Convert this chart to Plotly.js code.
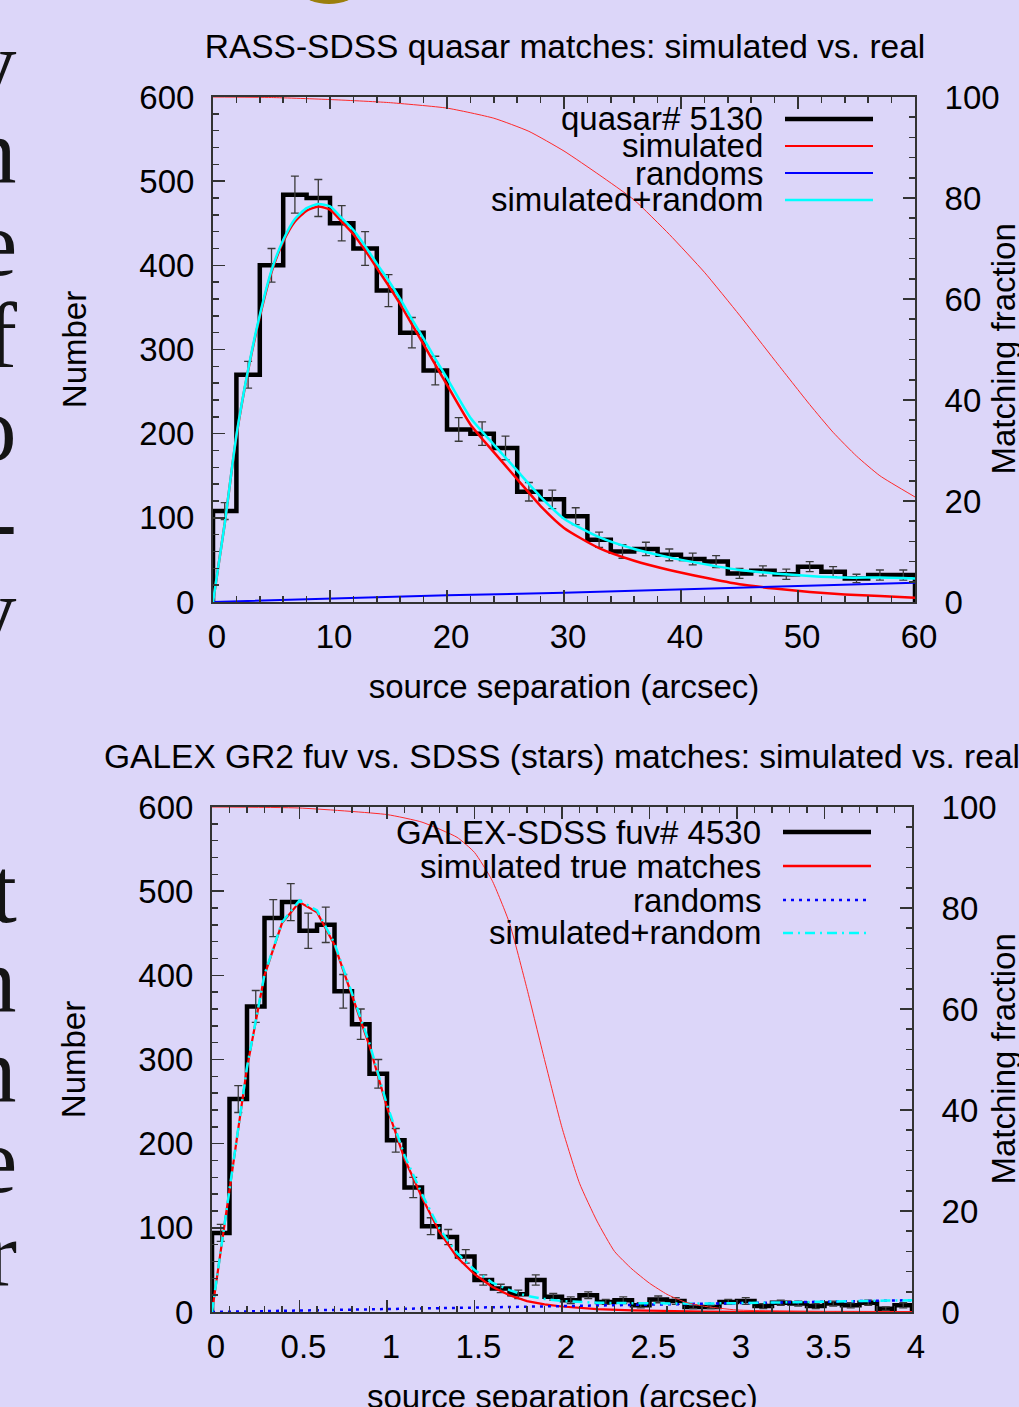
<!DOCTYPE html>
<html><head><meta charset="utf-8">
<script src="https://cdn.plot.ly/plotly-3.0.1.min.js"></script>
<style>html,body{margin:0;padding:0;background:#dcd6f9;} #chart{width:1019px;height:1407px;}</style>
</head><body><div id="chart"></div>
<script>
// ---------------- Top panel: RASS-SDSS quasars ----------------
const topTitle = 'RASS-SDSS quasar matches: simulated vs. real';
const topBinEdges = [0,2,4,6,8,10,12,14,16,18,20,22,24,26,28,30,32,34,36,38,40,42,44,46,48,50,52,54,56,58,60];
const topCounts = [108,270,400,484,480,450,420,370,320,275,205,200,183,131,122,102,74,60,63,56,51,48,34,37,33,42,36,28,32,32];
const topErrors = [10,16,20,22,22,21,20,19,18,17,14,14,14,11,11,10,9,8,8,7,7,7,6,6,6,6,6,5,6,6];
const topCurveX = [0,1,2,3,4,5,6,7,8,9,10,11,12,13,14,15,16,17,18,19,20,22,24,26,28,30,33,36,39,42,45,48,51,54,57,60];
const topSimulated = [0,93,197,275,339,392,428,452,465,470,466,452,437,418,397,376,354,330,306,282,258,211,178,146,114,88,64,49,38,29,21,16,12,9,7,5];
const topSimRandom = [0,93,198,276,341,394,430,455,468,473,470,456,442,423,402,382,360,336,313,289,266,219,187,156,125,99,77,63,53,45,38,34,31,29,29,28];
const topRandX = [0,10,20,30,40,50,60];
const topRandoms = [0,4,8,11,15,19,23];
const topFracX = [0,5,10,15,20,24,27,30,33,36,39,42,45,48,51,53,55,57,60];
const topFraction = [100,99.9,99.5,98.9,97.8,95.8,93.2,89.3,84.6,79.6,72.8,65.3,56.8,47.9,39.1,33.6,28.9,25,20.8];
const topLegend = ['quasar# 5130','simulated','randoms','simulated+random'];

// ---------------- Bottom panel: GALEX-SDSS stars ----------------
const botTitle = 'GALEX GR2 fuv vs. SDSS (stars) matches: simulated vs. real';
const botBinEdges = [0,0.1,0.2,0.3,0.4,0.5,0.6,0.7,0.8,0.9,1.0,1.1,1.2,1.3,1.4,1.5,1.6,1.7,1.8,1.9,2.0,2.1,2.2,2.3,2.4,2.5,2.6,2.7,2.8,2.9,3.0,3.1,3.2,3.3,3.4,3.5,3.6,3.7,3.8,3.9,4.0];
const botCounts = [94,253,363,468,487,453,460,381,342,283,204,148,102,89,66,38,28,21,38,18,14,20,12,14,8,15,13,6,6,12,13,7,11,10,7,10,8,11,4,8];
const botErrors = [10,16,19,22,22,21,21,20,18,17,14,12,10,9,8,6,5,5,6,4,4,4,3,4,3,4,4,2,2,3,4,3,3,3,3,3,3,3,2,3];
const botCurveX = [0,0.1,0.2,0.3,0.4,0.5,0.6,0.7,0.8,0.9,1.0,1.1,1.2,1.3,1.4,1.5,1.6,1.7,1.8,1.9,2.0,2.2,2.4,2.6,2.8,3.0,3.5,4.0];
const botSimulated = [0,148,290,400,462,487,475,436,376,316,243,182,136,95,65,45,30,20,13,9,6.5,3.3,2,1,0.5,0.3,0.1,0];
const botSimRandom = [0,148,291,401,463,489,477,438,379,319,246,186,140,99,70,50,35,26,19,15.5,13,11,10.5,10,10,10.5,12,14];
const botRandX = [0,1,2,3,4];
const botRandoms = [0,3.4,6.8,10.2,14];
const botFracX = [0,0.5,1.0,1.2,1.4,1.5,1.6,1.7,1.8,1.9,2.0,2.1,2.2,2.3,2.4,2.5,2.6,2.7,2.8,3.0,3.5,4.0];
const botFraction = [100,99.8,98.5,97,94,91,85.5,77,64,50,36.5,25.5,18,12,8.5,5.7,3.5,2,1.2,0.4,0.1,0];
const botLegend = ['GALEX-SDSS fuv# 4530','simulated true matches','randoms','simulated+random'];

const xTitle = 'source separation (arcsec)';
const yTitle = 'Number';
const y2Title = 'Matching fraction';

// fragments of the page text visible at the left edge
const sideTop = ['y','n','e','f','o','-','y'];
const sideBottom = ['t','n','n','e','r'];

// ---------------- layout helpers ----------------
const W = 1019, H = 1407;
const BG = '#dcd6f9';
const AX = '#333333';
const FONT = 'Liberation Sans, Arial, Helvetica, sans-serif';
const px = v => v / W;
const py = v => 1 - v / H;

function stepXY(edges, counts) {
  const x = [edges[0]], y = [0];
  for (let i = 0; i < counts.length; i++) { x.push(edges[i]); y.push(counts[i]); }
  x.push(edges[edges.length - 1]); y.push(counts[counts.length - 1]);
  x.push(edges[edges.length - 1]); y.push(0);
  return {x, y};
}
function centers(edges) { return edges.slice(0, -1).map((e, i) => (e + edges[i + 1]) / 2); }

function panelTraces(xa, ya, yf, edges, counts, errs, cx, sim, simr, rx, rnd, fx, frac, bottom) {
  const st = stepXY(edges, counts);
  return [
    {x: st.x, y: st.y, xaxis: xa, yaxis: ya, mode: 'lines', line: {shape: 'hv', color: '#000', width: 4.5}, hoverinfo: 'skip'},
    {x: centers(edges), y: counts, xaxis: xa, yaxis: ya, mode: 'markers', marker: {size: 1, color: 'rgba(0,0,0,0)'},
     error_y: {type: 'data', array: errs, visible: true, color: '#3a3a3a', thickness: 1.3, width: 4}, hoverinfo: 'skip'},
    {x: cx, y: sim, xaxis: xa, yaxis: ya, mode: 'lines', line: {color: '#ff0000', width: bottom ? 2.2 : 2.5, shape: bottom ? 'linear' : 'spline', smoothing: 0.6}},
    {x: rx, y: rnd, xaxis: xa, yaxis: ya, mode: 'lines', line: {color: '#0000ff', width: bottom ? 2.5 : 2, dash: bottom ? '3px,5px' : 'solid'}},
    {x: cx, y: simr, xaxis: xa, yaxis: ya, mode: 'lines', line: {color: '#00ffff', width: 2.5, shape: bottom ? 'linear' : 'spline', smoothing: 0.6, dash: bottom ? '10px,5px,2px,5px' : 'solid'}},
    {x: fx, y: frac, xaxis: xa, yaxis: yf, mode: 'lines', line: {color: '#ff2a2a', width: 1, shape: 'spline', smoothing: 0.5}}
  ];
}

const data = [
  ...panelTraces('x', 'y', 'y3', topBinEdges, topCounts, topErrors, topCurveX, topSimulated, topSimRandom, topRandX, topRandoms, topFracX, topFraction, false),
  ...panelTraces('x2', 'y2', 'y4', botBinEdges, botCounts, botErrors, botCurveX, botSimulated, botSimRandom, botRandX, botRandoms, botFracX, botFraction, true)
];

const axBase = {showline: true, linecolor: AX, linewidth: 2, ticks: 'inside', ticklen: 12, tickwidth: 1.5, tickcolor: AX,
  showgrid: false, zeroline: false, tickfont: {size: 33, color: '#000', family: FONT}, fixedrange: true};
const minorBase = {ticks: 'inside', ticklen: 6, tickwidth: 1.5, tickcolor: AX, showgrid: false};

const layout = {
  width: W, height: H, margin: {l: 0, r: 0, t: 0, b: 0},
  paper_bgcolor: BG, plot_bgcolor: BG, showlegend: false,
  font: {family: FONT, size: 33, color: '#000'},
  title: {text: topTitle, x: px(565), xref: 'paper', xanchor: 'center', y: py(46), yref: 'paper', yanchor: 'middle', font: {size: 33.5, family: FONT, color: '#000'}},
  xaxis: Object.assign({}, axBase, {domain: [px(213), px(915)], anchor: 'y', range: [0, 60], tick0: 0, dtick: 10, mirror: 'ticks',
    minor: Object.assign({}, minorBase, {dtick: 2}), ticklabelstandoff: 4, ticklabelshift: 4, title: {text: xTitle, standoff: 21, font: {size: 33, family: FONT}}}),
  yaxis: Object.assign({}, axBase, {domain: [py(602), py(97)], anchor: 'x', range: [0, 600], tick0: 0, dtick: 100,
    minor: Object.assign({}, minorBase, {dtick: 20}), ticklabelstandoff: 10, title: {text: yTitle, standoff: 43, font: {size: 33, family: FONT}}}),
  yaxis3: Object.assign({}, axBase, {overlaying: 'y', anchor: 'x', side: 'right', range: [0, 100], tick0: 0, dtick: 20,
    minor: Object.assign({}, minorBase, {dtick: 4}), ticklabelstandoff: 21}),
  xaxis2: Object.assign({}, axBase, {domain: [px(212), px(912)], anchor: 'y2', range: [0, 4], tick0: 0, dtick: 0.5, mirror: 'ticks',
    minor: Object.assign({}, minorBase, {dtick: 0.1}), ticklabelstandoff: 4, ticklabelshift: 4}),
  yaxis2: Object.assign({}, axBase, {domain: [py(1312), py(807)], anchor: 'x2', range: [0, 600], tick0: 0, dtick: 100,
    minor: Object.assign({}, minorBase, {dtick: 20}), ticklabelstandoff: 10, title: {text: yTitle, standoff: 43, font: {size: 33, family: FONT}}}),
  yaxis4: Object.assign({}, axBase, {overlaying: 'y2', anchor: 'x2', side: 'right', range: [0, 100], tick0: 0, dtick: 20,
    minor: Object.assign({}, minorBase, {dtick: 4}), ticklabelstandoff: 21}),
  annotations: [],
  shapes: []
};

const A = layout.annotations, S = layout.shapes;
// bottom panel title
A.push({text: botTitle, xref: 'paper', yref: 'paper', x: px(562), y: py(756), xanchor: 'center', yanchor: 'middle', showarrow: false,
  font: {size: 33.5, family: FONT, color: '#000'}});
// bottom x-axis title (partly below the page edge, as in the original)
A.push({text: xTitle, xref: 'paper', yref: 'paper', x: px(562), y: py(1396), xanchor: 'center', yanchor: 'middle', showarrow: false,
  font: {size: 33, family: FONT, color: '#000'}});
// right axis titles
[349.5, 1059.5].forEach(cy => A.push({text: y2Title, xref: 'paper', yref: 'paper', x: px(1003), y: py(cy), xanchor: 'center', yanchor: 'middle',
  textangle: -90, showarrow: false, font: {size: 33, family: FONT, color: '#000'}}));

// legends (gnuplot style: text right-aligned, sample to the right)
const topLegY = [119, 146, 173, 200];
const botLegY = [832, 866, 900, 933];
const topLegStyle = [{color: '#000', width: 4.5}, {color: '#ff0000', width: 2}, {color: '#0000ff', width: 2}, {color: '#00ffff', width: 2.5}];
const botLegStyle = [{color: '#000', width: 4.5}, {color: '#ff0000', width: 2.5}, {color: '#0000ff', width: 2.5, dash: '3px,5px'}, {color: '#00ffff', width: 2.5, dash: '10px,5px,2px,5px'}];
topLegend.forEach((t, i) => {
  A.push({text: t, xref: 'paper', yref: 'paper', x: px(765), y: py(topLegY[i]), xanchor: 'right', yanchor: 'middle', showarrow: false,
    font: {size: 33, family: FONT, color: '#000'}});
  S.push({type: 'line', xref: 'paper', yref: 'paper', x0: px(785), x1: px(873), y0: py(topLegY[i]), y1: py(topLegY[i]), line: topLegStyle[i]});
});
botLegend.forEach((t, i) => {
  A.push({text: t, xref: 'paper', yref: 'paper', x: px(763), y: py(botLegY[i]), xanchor: 'right', yanchor: 'middle', showarrow: false,
    font: {size: 33, family: FONT, color: '#000'}});
  S.push({type: 'line', xref: 'paper', yref: 'paper', x0: px(783), x1: px(871), y0: py(botLegY[i]), y1: py(botLegY[i]), line: botLegStyle[i]});
});

// page-text fragments at the left edge (serif)
const topBase = [94, 183, 274, 366, 459, 552, 641];
const botBase = [921, 1011, 1101, 1191, 1284];
sideTop.forEach((t, i) => A.push({text: t, xref: 'paper', yref: 'paper', x: px(19), y: py(topBase[i] - 31), xanchor: 'right', yanchor: 'middle',
  showarrow: false, font: {size: 93, family: 'Liberation Serif, Times New Roman, serif', color: '#141414'}}));
sideBottom.forEach((t, i) => A.push({text: t, xref: 'paper', yref: 'paper', x: px(19), y: py(botBase[i] - 31), xanchor: 'right', yanchor: 'middle',
  showarrow: false, font: {size: 93, family: 'Liberation Serif, Times New Roman, serif', color: '#141414'}}));

// olive disc partly visible at the top edge
S.push({type: 'circle', xref: 'paper', yref: 'paper', x0: px(279), x1: px(379), y0: py(-96), y1: py(4), fillcolor: '#9b7f0c', line: {width: 0}});

Plotly.newPlot('chart', data, layout, {displayModeBar: false, staticPlot: true});
</script></body></html>
